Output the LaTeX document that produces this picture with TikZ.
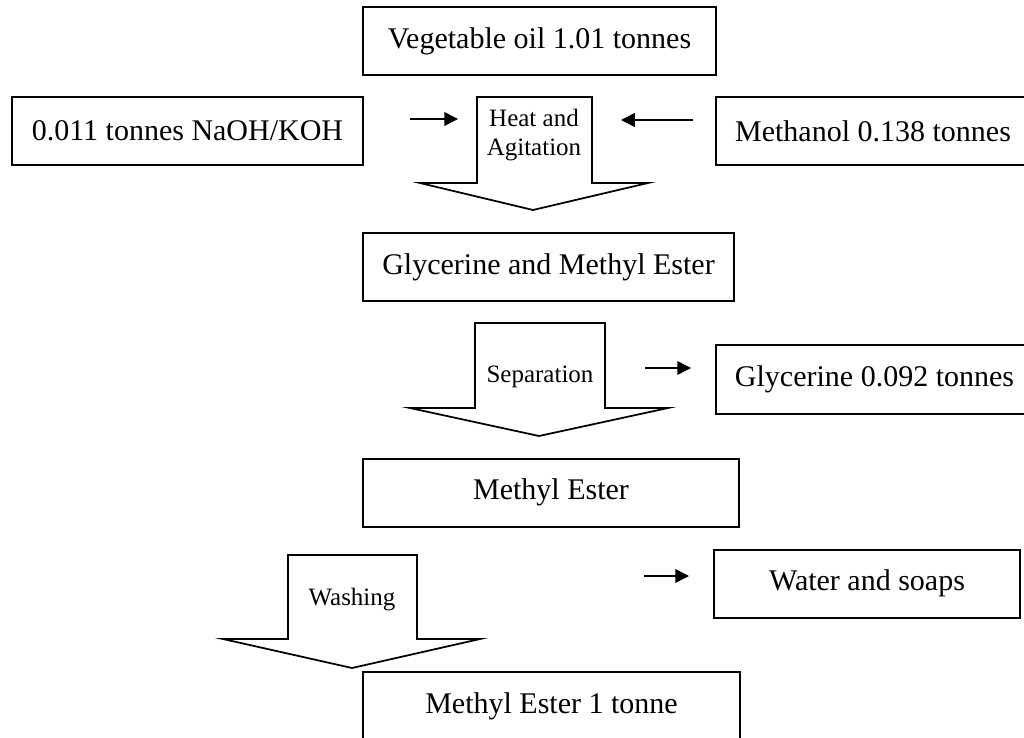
\documentclass[tikz,border=0pt]{standalone}
\usepackage{fontspec}
\setmainfont{Liberation Serif}
\usetikzlibrary{arrows.meta}
\usetikzlibrary{positioning}

\begin{document}
\begin{tikzpicture}[x=0.4pt, y=-0.4pt, font=\fontsize{12}{14}\selectfont]
    \tikzstyle{box}=[draw=black, rectangle, line width=0.8pt, minimum height=27.2pt, inner sep=0pt]
    \tikzstyle{step arrow}=[draw=black, line width=0.7pt, fill=white]
    \tikzstyle{annot}=[font=\fontsize{10}{11.5}\selectfont, align=center, inner sep=0pt]
    \tikzstyle{flow}=[-{Triangle[length=5.5pt, width=5.5pt]}, line width=0.6pt]

    \useasboundingbox (0,0) rectangle (1024,738);
    \clip (0,0) rectangle (1024,738);

    % boxes
    \node[box, minimum width=141.2pt] (oil) at (539.5,41) {Vegetable oil 1.01 tonnes};
    \node[box, minimum width=140.4pt] (cat) at (187.5,131) {0.011 tonnes NaOH/KOH};
    \node[box, minimum width=125.6pt] (meoh) at (873,131.5) {Methanol 0.138 tonnes};
    \node[box, minimum width=148.4pt] (mix) at (548.5,267.5) {Glycerine and Methyl Ester};
    \node[box, minimum width=126.8pt] (glyc) at (874.5,379.5) {Glycerine 0.092 tonnes};
    \node[box, minimum width=150.4pt] (ester) at (551,492.5) {Methyl Ester};
    \node[box, minimum width=122.4pt] (water) at (867,583.5) {Water and soaps};
    \node[box, minimum width=150.8pt] (product) at (551.5,706) {Methyl Ester 1 tonne};

    % process steps
    \draw[step arrow] (477,97) -- (592,97) -- (592,183) -- (648,183) -- (533,210) -- (420,183) -- (477,183) -- cycle;
    \draw[step arrow] (475,323) -- (605,323) -- (605,408) -- (668,408) -- (539,436) -- (410,408) -- (475,408) -- cycle;
    \draw[step arrow] (288,555) -- (417,555) -- (417,639) -- (480,639) -- (352,668) -- (223,639) -- (288,639) -- cycle;

    \node[annot] (heat) at (534,135) {Heat and\\Agitation};
    \node[annot] (separation) at (540,377) {Separation};
    \node[annot] (washing) at (352,600) {Washing};

    % feeds and outputs
    \coordinate (catout) at (410,119);
    \coordinate (catin) at (458,119);
    \coordinate (meohout) at (693,120);
    \coordinate (meohin) at (621,120);
    \coordinate (glycout) at (645,368);
    \coordinate (glycin) at (691,368);
    \coordinate (waterout) at (644,576);
    \coordinate (waterin) at (689,576);

    \draw[flow] (catout) -- (catin);
    \draw[flow] (meohout) -- (meohin);
    \draw[flow] (glycout) -- (glycin);
    \draw[flow] (waterout) -- (waterin);
\end{tikzpicture}
\end{document}
